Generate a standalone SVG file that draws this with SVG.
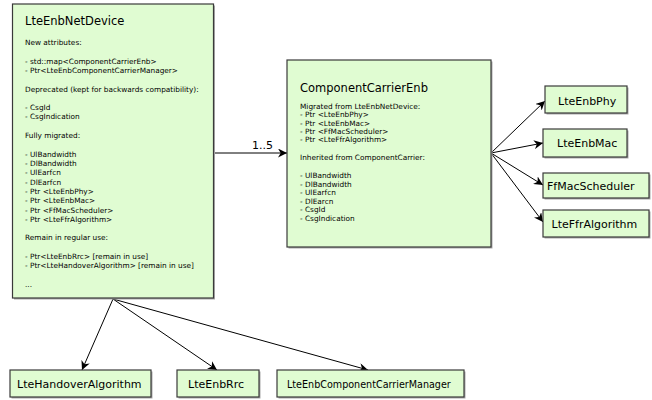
<svg xmlns="http://www.w3.org/2000/svg" width="652" height="400" viewBox="0 0 652 400">
<style>
.box{fill:#e0fcd2;stroke:#3a3a3a;stroke-width:1.2}
.sh{fill:#aaaaaa}
.t{font-family:"DejaVu Sans",sans-serif;fill:#000}
.title{font-size:11.5px}
.small{font-size:7.35px}
.lbl{font-size:11px}
.conn{stroke:#000;stroke-width:1;fill:none;marker-end:url(#ah)}
</style>
<defs>
<marker id="ah" viewBox="0 0 10 10" refX="10" refY="5" markerWidth="9" markerHeight="9" markerUnits="userSpaceOnUse" orient="auto">
<path d="M0,0 L10,5 L0,10 L3,5 z" fill="#000"/>
</marker>
</defs>
<rect width="652" height="400" fill="#fff"/>
<g id="connectors">
<line class="conn" x1="213.5" y1="153" x2="287" y2="153"/>
<line class="conn" x1="491" y1="153" x2="545" y2="101"/>
<line class="conn" x1="491" y1="153" x2="543" y2="143"/>
<line class="conn" x1="491" y1="153" x2="543" y2="185"/>
<line class="conn" x1="491" y1="153" x2="543" y2="222"/>
<line class="conn" x1="113" y1="299" x2="82" y2="370"/>
<line class="conn" x1="113" y1="299" x2="217" y2="370"/>
<line class="conn" x1="113" y1="299" x2="368" y2="370"/>
<text class="t lbl" x="252" y="149">1..5</text>
</g>
<g id="LteEnbNetDevice">
<rect class="sh" x="14" y="5.5" width="201" height="294"/>
<rect class="box" x="12.5" y="4" width="201" height="294"/>
<text class="t title" x="25" y="25">LteEnbNetDevice</text>
<g class="t small">
<text x="25" y="45">New attributes:</text>
<text x="25" y="63.6">- std::map&lt;ComponentCarrierEnb&gt;</text>
<text x="25" y="72.9">- Ptr&lt;LteEnbComponentCarrierManager&gt;</text>
<text x="25" y="91.5">Deprecated (kept for backwards compatibility):</text>
<text x="25" y="110.1">- CsgId</text>
<text x="25" y="119.4">- CsgIndication</text>
<text x="25" y="138">Fully migrated:</text>
<text x="25" y="156.7">- UlBandwidth</text>
<text x="25" y="166">- DlBandwidth</text>
<text x="25" y="175.3">- UlEarfcn</text>
<text x="25" y="184.6">- DlEarfcn</text>
<text x="25" y="193.9">- Ptr &lt;LteEnbPhy&gt;</text>
<text x="25" y="203.2">- Ptr &lt;LteEnbMac&gt;</text>
<text x="25" y="212.5">- Ptr &lt;FfMacScheduler&gt;</text>
<text x="25" y="221.8">- Ptr &lt;LteFfrAlgorithm&gt;</text>
<text x="25" y="240.4">Remain in regular use:</text>
<text x="25" y="259">- Ptr&lt;LteEnbRrc&gt; [remain in use]</text>
<text x="25" y="268.3">- Ptr&lt;LteHandoverAlgorithm&gt; [remain in use]</text>
<text x="25" y="287">...</text>
</g>
</g>
<g id="ComponentCarrierEnb">
<rect class="sh" x="288.5" y="61.5" width="204" height="187"/>
<rect class="box" x="287" y="60" width="204" height="187"/>
<text class="t title" x="300" y="92">ComponentCarrierEnb</text>
<g class="t small">
<text x="300" y="109.3">Migrated from LteEnbNetDevice:</text>
<text x="300" y="117.4">- Ptr &lt;LteEnbPhy&gt;</text>
<text x="300" y="125.5">- Ptr &lt;LteEnbMac&gt;</text>
<text x="300" y="133.6">- Ptr &lt;FfMacScheduler&gt;</text>
<text x="300" y="141.7">- Ptr &lt;LteFfrAlgorithm&gt;</text>
<text x="300" y="160">Inherited from ComponentCarrier:</text>
<text x="300" y="178.3">- UlBandwidth</text>
<text x="300" y="186.8">- DlBandwidth</text>
<text x="300" y="195.3">- UlEarfcn</text>
<text x="300" y="203.8">- DlEarcn</text>
<text x="300" y="212.3">- CsgId</text>
<text x="300" y="220.8">- CsgIndication</text>
</g>
</g>
<g id="LteEnbPhy">
<rect class="sh" x="546.5" y="87.5" width="82" height="27"/>
<rect class="box" x="545" y="86" width="82" height="27"/>
<text class="t lbl" x="558" y="105">LteEnbPhy</text>
</g>
<g id="LteEnbMac">
<rect class="sh" x="544.5" y="130.5" width="84" height="28"/>
<rect class="box" x="543" y="129" width="84" height="28"/>
<text class="t lbl" x="557" y="147">LteEnbMac</text>
</g>
<g id="FfMacScheduler">
<rect class="sh" x="544.5" y="174.5" width="106" height="25"/>
<rect class="box" x="543" y="173" width="106" height="25"/>
<text class="t lbl" x="547" y="190">FfMacScheduler</text>
</g>
<g id="LteFfrAlgorithm">
<rect class="sh" x="544.5" y="211.5" width="106" height="27"/>
<rect class="box" x="543" y="210" width="106" height="27"/>
<text class="t lbl" x="551.5" y="228">LteFfrAlgorithm</text>
</g>
<g id="LteHandoverAlgorithm">
<rect class="sh" x="11.5" y="371.5" width="141" height="27"/>
<rect class="box" x="10" y="370" width="141" height="27"/>
<text class="t lbl" x="17" y="388">LteHandoverAlgorithm</text>
</g>
<g id="LteEnbRrc">
<rect class="sh" x="178.5" y="371.5" width="82" height="27"/>
<rect class="box" x="177" y="370" width="82" height="27"/>
<text class="t lbl" x="188" y="388">LteEnbRrc</text>
</g>
<g id="LteEnbComponentCarrierManager">
<rect class="sh" x="278.5" y="371.5" width="187" height="27"/>
<rect class="box" x="277" y="370" width="187" height="27"/>
<text class="t" style="font-size:9.6px" x="287" y="388">LteEnbComponentCarrierManager</text>
</g>
</svg>
